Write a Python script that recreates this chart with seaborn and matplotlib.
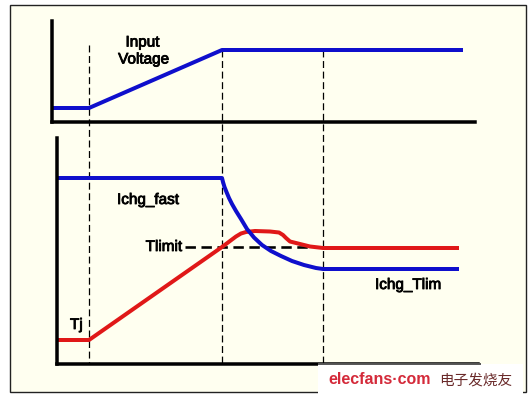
import numpy as np
import pandas as pd
import matplotlib
matplotlib.use("Agg")
import matplotlib.pyplot as plt
import matplotlib.patheffects as pe
import seaborn as sns
from matplotlib.patches import Rectangle

# ---------------- data (time axis shared by both panels) ----------------
event_times = [89, 222, 323]

vin_time = [52, 89, 222, 461]
vin_level = [13.5, 13.5, 71.5, 71.5]

ichg_time = [57, 222, 223, 224.5, 226.5, 229, 232, 236, 241, 247, 254, 262,
             271, 281, 292, 304, 316, 323, 457]
ichg_level = [186, 186, 182, 177, 172, 166, 160, 153, 145, 135, 126.5, 119,
              113, 108, 103, 99, 96, 95, 95]

tj_time = [54, 89, 222, 230, 236, 241, 246, 255, 270, 279, 283, 286, 290,
           300, 310, 323, 457]
tj_level = [24, 24, 117, 123, 127.5, 130.5, 132, 133, 132.5, 131.5, 129, 126,
            122.5, 120, 117.5, 116, 116]

tlimit_level = 117
tlimit_span = [185, 309]

label_input = ["Input", "Voltage"]
label_fast = "Ichg_fast"
label_tlimit = "Tlimit"
label_tj = "Tj"
label_tlim = "Ichg_Tlim"
wm_latin = "elecfans·com"
wm_cjk = "电子发烧友"

# ---------------- style ----------------
plt.rcParams["font.family"] = ["Liberation Sans", "Noto Sans CJK SC", "DejaVu Sans"]
plt.rcParams["lines.scale_dashes"] = False

W, H = 532, 398
PX = 0.72  # points per pixel at 100 dpi
BLUE = "#0f0fcc"
RED = "#e01818"
CREAM = "#fffff0"

fig = plt.figure(figsize=(W / 100, H / 100), dpi=100)
fig.patch.set_facecolor("white")

# background overlay (pixel coordinates)
ov = fig.add_axes([0, 0, 1, 1], zorder=0)
ov.set_xlim(0, W)
ov.set_ylim(H, 0)
ov.axis("off")
ov.add_patch(Rectangle((10, 5), 516, 387, facecolor=CREAM, edgecolor="#222222", lw=1.0))

# vertical event markers across both panels
for i, t in enumerate(event_times):
    ov.plot([t, t], [45 if i == 0 else 50, 364], color="black", lw=0.9,
            dashes=(5, 2.6), solid_capstyle="butt")


def make_axes(l, r, top, bot):
    ax = fig.add_axes([l / W, (H - bot) / H, (r - l) / W, (bot - top) / H], zorder=1)
    ax.patch.set_alpha(0)
    ax.set_xlim(l, r)
    ax.set_ylim(0, bot - top)
    for s in ["top", "right"]:
        ax.spines[s].set_visible(False)
    for s in ["left", "bottom"]:
        ax.spines[s].set_linewidth(3.5 * PX)
        ax.spines[s].set_color("black")
        ax.spines[s].set_capstyle("projecting")
    return ax


ax_top = make_axes(52, 475, 20.7, 121.5)
ax_bot = make_axes(57, 478, 137.7, 364)

df_vin = pd.DataFrame({"t": vin_time, "v": vin_level})
sns.lineplot(data=df_vin, x="t", y="v", ax=ax_top, color=BLUE, lw=4 * PX,
             sort=False, estimator=None)

df_tl = pd.DataFrame({"t": tlimit_span, "v": [tlimit_level] * 2})
sns.lineplot(data=df_tl, x="t", y="v", ax=ax_bot, color="black", lw=2.6 * PX,
             sort=False, estimator=None)
ax_bot.lines[-1].set_dashes((7.5, 4))

df_tj = pd.DataFrame({"t": tj_time, "v": tj_level})
sns.lineplot(data=df_tj, x="t", y="v", ax=ax_bot, color=RED, lw=4 * PX,
             sort=False, estimator=None)

df_ich = pd.DataFrame({"t": ichg_time, "v": ichg_level})
sns.lineplot(data=df_ich, x="t", y="v", ax=ax_bot, color=BLUE, lw=4 * PX,
             sort=False, estimator=None)

for ax in (ax_top, ax_bot):
    ax.set_xlabel("")
    ax.set_ylabel("")
    ax.set_xticks([])
    ax.set_yticks([])
    for ln in ax.lines:
        ln.set_solid_joinstyle("round")

# text overlay (on top)
ov2 = fig.add_axes([0, 0, 1, 1], zorder=5)
ov2.set_xlim(0, W)
ov2.set_ylim(H, 0)
ov2.axis("off")
FS = 11
heavy = [pe.withStroke(linewidth=0.6, foreground="black")]
txt = dict(va="baseline", fontsize=FS, color="black", path_effects=heavy)
ov2.text(142.5, 46.5, label_input[0], ha="center", **txt)
ov2.text(143.5, 63.5, label_input[1], ha="center", **txt)
ov2.text(117, 204, label_fast, ha="left", **txt)
ov2.text(182, 251, label_tlimit, ha="right", **txt)
ov2.text(70, 329, label_tj, ha="left", **txt)
ov2.text(375, 289, label_tlim, ha="left", **txt)

# watermark
ov2.add_patch(Rectangle((318, 363.5), 205, 33, facecolor="white", edgecolor="none"))
ov2.plot([318, 481], [363.5, 363.5], color="#555555", lw=1.4, solid_capstyle="butt")
ov2.text(328, 384, wm_latin, ha="left", va="baseline", fontsize=11.5,
         fontweight="bold", color="#d42a3a")
ov2.text(439, 385, wm_cjk, ha="left", va="baseline", fontsize=10.5,
         color="#6a2a2a", family=["Noto Sans CJK SC", "DejaVu Sans"])

fig.savefig("out.png", dpi=100)
